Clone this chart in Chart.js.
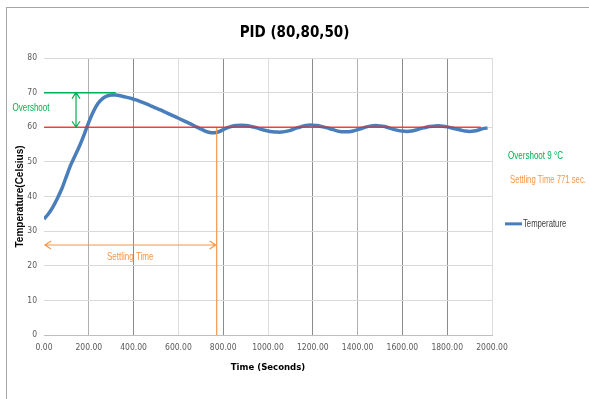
<!DOCTYPE html>
<html>
<head>
<meta charset="utf-8">
<script src="https://cdn.jsdelivr.net/npm/chart.js@4.4.1/dist/chart.umd.min.js"></script>
<style>
  html, body { margin: 0; padding: 0; background: #fff; }
  #wrap { position: relative; width: 589px; height: 399px; overflow: hidden; }
  #frame { position: absolute; left: 6px; top: 7px; width: 620px; height: 420px;
           border-left: 1px solid #a6a6a6; border-top: 1px solid #a6a6a6; }
  canvas { position: absolute; left: 0; top: 0; }
</style>
</head>
<body>
<div id="wrap">
  <div id="frame"></div>
  <canvas id="pid" width="589" height="399"></canvas>
</div>
<script>
const timeSec = [
  0, 20, 40, 60, 80, 100, 120, 140, 160, 180,
  200, 220, 240, 260, 280, 300, 320, 340, 360, 380,
  400, 420, 440, 460, 480, 500, 520, 540, 560, 580,
  600, 620, 640, 660, 680, 700, 720, 740, 760, 780,
  800, 820, 840, 860, 880, 900, 920, 940, 960, 980,
  1000, 1020, 1040, 1060, 1080, 1100, 1120, 1140, 1160, 1180,
  1200, 1220, 1240, 1260, 1280, 1300, 1320, 1340, 1360, 1380,
  1400, 1420, 1440, 1460, 1480, 1500, 1520, 1540, 1560, 1580,
  1600, 1620, 1640, 1660, 1680, 1700, 1720, 1740, 1760, 1780,
  1800, 1820, 1840, 1860, 1880, 1900, 1920, 1940, 1960, 1980
];
const temperature = [
  33.5, 35.0, 37.0, 39.5, 42.3, 45.8, 49.2, 52.0, 54.8, 58.0,
  61.5, 64.5, 66.8, 68.2, 69.0, 69.3, 69.3, 69.1, 68.8, 68.5,
  68.1, 67.7, 67.2, 66.7, 66.1, 65.5, 65.0, 64.4, 63.8, 63.2,
  62.6, 62.0, 61.4, 60.8, 60.1, 59.5, 58.9, 58.5, 58.4, 58.7,
  59.3, 59.9, 60.3, 60.5, 60.6, 60.5, 60.3, 60.0, 59.6, 59.2,
  58.9, 58.7, 58.6, 58.6, 58.8, 59.1, 59.6, 60.0, 60.4, 60.6,
  60.6, 60.5, 60.2, 59.9, 59.5, 59.1, 58.8, 58.7, 58.7, 58.9,
  59.3, 59.7, 60.1, 60.4, 60.5, 60.4, 60.2, 59.8, 59.4, 59.1,
  58.9, 58.8, 58.9, 59.2, 59.6, 59.9, 60.2, 60.3, 60.4, 60.3,
  60.1, 59.8, 59.5, 59.2, 58.9, 58.8, 58.9, 59.2, 59.6, 59.8
];

// reference lines and annotations
const setpointLine = [[0, 60], [1950, 60]];
const peakLine = [[0, 70], [320, 70]];
const settlingLine = [[771, 0], [771, 60]];
const overshootArrow = { t: 143, from: 60, to: 70 };
const settlingArrow = { level: 26, from: 0, to: 771 };
const overshootValue = 9;
const settlingValue = 771;

const cond = "'DejaVu Sans Condensed', 'Liberation Sans', sans-serif";
const GREEN = '#00b050';
const ORANGE = '#f79646';
const BLUE = '#4a7ebb';

function pts(pairs) { return pairs.map(p => ({ x: p[0], y: p[1] })); }

function gridColor(ctx) {
  const v = ctx.tick ? ctx.tick.value : 0;
  if (v === 0) return 'rgba(0,0,0,0)';
  if ([400, 800, 1200, 1600, 1800].includes(v)) return '#8c8c8c';
  if ([200, 1400].includes(v)) return '#b0b0b0';
  return '#dcdcdc';
}

// squeezed text, to get close to the narrow office font
function narrowText(ctx, text, x, y, align, color, squeeze) {
  ctx.save();
  ctx.font = "11px 'Liberation Sans', Arial, sans-serif";
  ctx.fillStyle = color;
  ctx.textBaseline = 'middle';
  ctx.textAlign = align;
  ctx.translate(x, y);
  ctx.scale(squeeze || 0.73, 1);
  ctx.fillText(text, 0, 0);
  ctx.restore();
}

const annotations = {
  id: 'annotations',
  afterDatasetsDraw(chart) {
    const { ctx, chartArea } = chart;
    const x = chart.scales.x, y = chart.scales.y;
    ctx.save();
    ctx.lineWidth = 1.2;

    // overshoot double arrow
    ctx.strokeStyle = GREEN;
    const ax = x.getPixelForValue(overshootArrow.t);
    const ay1 = y.getPixelForValue(overshootArrow.to);
    const ay2 = y.getPixelForValue(overshootArrow.from);
    ctx.beginPath();
    ctx.moveTo(ax, ay1); ctx.lineTo(ax, ay2);
    ctx.moveTo(ax - 4, ay1 + 6); ctx.lineTo(ax, ay1); ctx.lineTo(ax + 4, ay1 + 6);
    ctx.moveTo(ax - 4, ay2 - 6); ctx.lineTo(ax, ay2); ctx.lineTo(ax + 4, ay2 - 6);
    ctx.stroke();

    // settling time double arrow
    ctx.strokeStyle = ORANGE;
    const sy = y.getPixelForValue(settlingArrow.level);
    const sx1 = x.getPixelForValue(settlingArrow.from) + 1;
    const sx2 = x.getPixelForValue(settlingArrow.to) - 1;
    ctx.beginPath();
    ctx.moveTo(sx1, sy); ctx.lineTo(sx2, sy);
    ctx.moveTo(sx1 + 6, sy - 4); ctx.lineTo(sx1, sy); ctx.lineTo(sx1 + 6, sy + 4);
    ctx.moveTo(sx2 - 6, sy - 4); ctx.lineTo(sx2, sy); ctx.lineTo(sx2 - 6, sy + 4);
    ctx.stroke();
    ctx.restore();

    narrowText(ctx, 'Overshoot', chartArea.left - 13, y.getPixelForValue(65.5), 'center', GREEN);
    narrowText(ctx, 'Settling Time', x.getPixelForValue(385), y.getPixelForValue(22.5), 'center', ORANGE);

    // right-hand notes
    const rx = chartArea.right + 16;
    narrowText(ctx, 'Overshoot ' + overshootValue + ' °C', rx, y.getPixelForValue(51.6), 'left', GREEN);
    narrowText(ctx, 'Settling Time ' + settlingValue + ' sec.', rx + 2, y.getPixelForValue(44.7), 'left', ORANGE, 0.7);

    // legend
    const ly = y.getPixelForValue(32.1);
    ctx.save();
    ctx.strokeStyle = BLUE;
    ctx.lineWidth = 3;
    ctx.beginPath();
    ctx.moveTo(chartArea.right + 13, ly); ctx.lineTo(chartArea.right + 30, ly);
    ctx.stroke();
    ctx.restore();
    narrowText(ctx, 'Temperature', chartArea.right + 31, ly, 'left', '#404040', 0.7);
  }
};

new Chart(document.getElementById('pid'), {
  type: 'line',
  data: {
    datasets: [
      {
        label: 'Setpoint', data: pts(setpointLine),
        borderColor: 'rgba(255,30,30,0.85)', borderWidth: 1.5, pointRadius: 0
      },
      {
        label: 'Peak', data: pts(peakLine),
        borderColor: GREEN, borderWidth: 1.5, pointRadius: 0
      },
      {
        label: 'Settling', data: pts(settlingLine),
        borderColor: ORANGE, borderWidth: 1.2, pointRadius: 0
      },
      {
        label: 'Temperature',
        data: timeSec.map((t, i) => ({ x: t, y: temperature[i] })),
        borderColor: BLUE, borderWidth: 3.5, pointRadius: 0, tension: 0.3
      }
    ]
  },
  options: {
    responsive: false,
    animation: false,
    devicePixelRatio: 1,
    layout: { padding: { top: 24, bottom: 22, left: 0, right: 0 } },
    plugins: {
      legend: { display: false },
      tooltip: { enabled: false },
      title: {
        display: true,
        text: 'PID (80,80,50)',
        color: '#000',
        font: { family: cond, size: 15, weight: 'bold', lineHeight: 1.2 },
        padding: { top: 0, bottom: 16 }
      }
    },
    scales: {
      x: {
        type: 'linear', min: 0, max: 2000,
        ticks: { stepSize: 200, color: '#595959', font: { family: cond, size: 8.5 },
                 padding: 8, maxRotation: 0, callback: v => v.toFixed(2) },
        grid: { color: gridColor, drawTicks: false, lineWidth: 1 },
        border: { display: true, color: '#bfbfbf' },
        title: { display: true, text: 'Time (Seconds)', color: '#000',
                 font: { family: cond, size: 9.5, weight: 'bold' }, padding: { top: 6, bottom: 4 } },
        afterFit(s) { s.height = 42; }
      },
      y: {
        min: 0, max: 80,
        ticks: { stepSize: 10, color: '#595959', font: { family: cond, size: 8.5 }, padding: 7 },
        grid: { color: '#d9d9d9', drawTicks: false },
        border: { display: false },
        title: { display: true, text: 'Temperature(Celsius)', color: '#000',
                 font: { family: "'Liberation Sans', Arial, sans-serif", size: 10, weight: 'bold' },
                 padding: { top: 14, bottom: 0 } },
        afterFit(s) { s.width = 44; }
      },
      yRight: {
        position: 'right', min: 0, max: 80,
        ticks: { display: false }, grid: { display: false }, border: { display: false },
        afterFit(s) { s.width = 97; }
      }
    }
  },
  plugins: [annotations]
});
</script>
</body>
</html>
